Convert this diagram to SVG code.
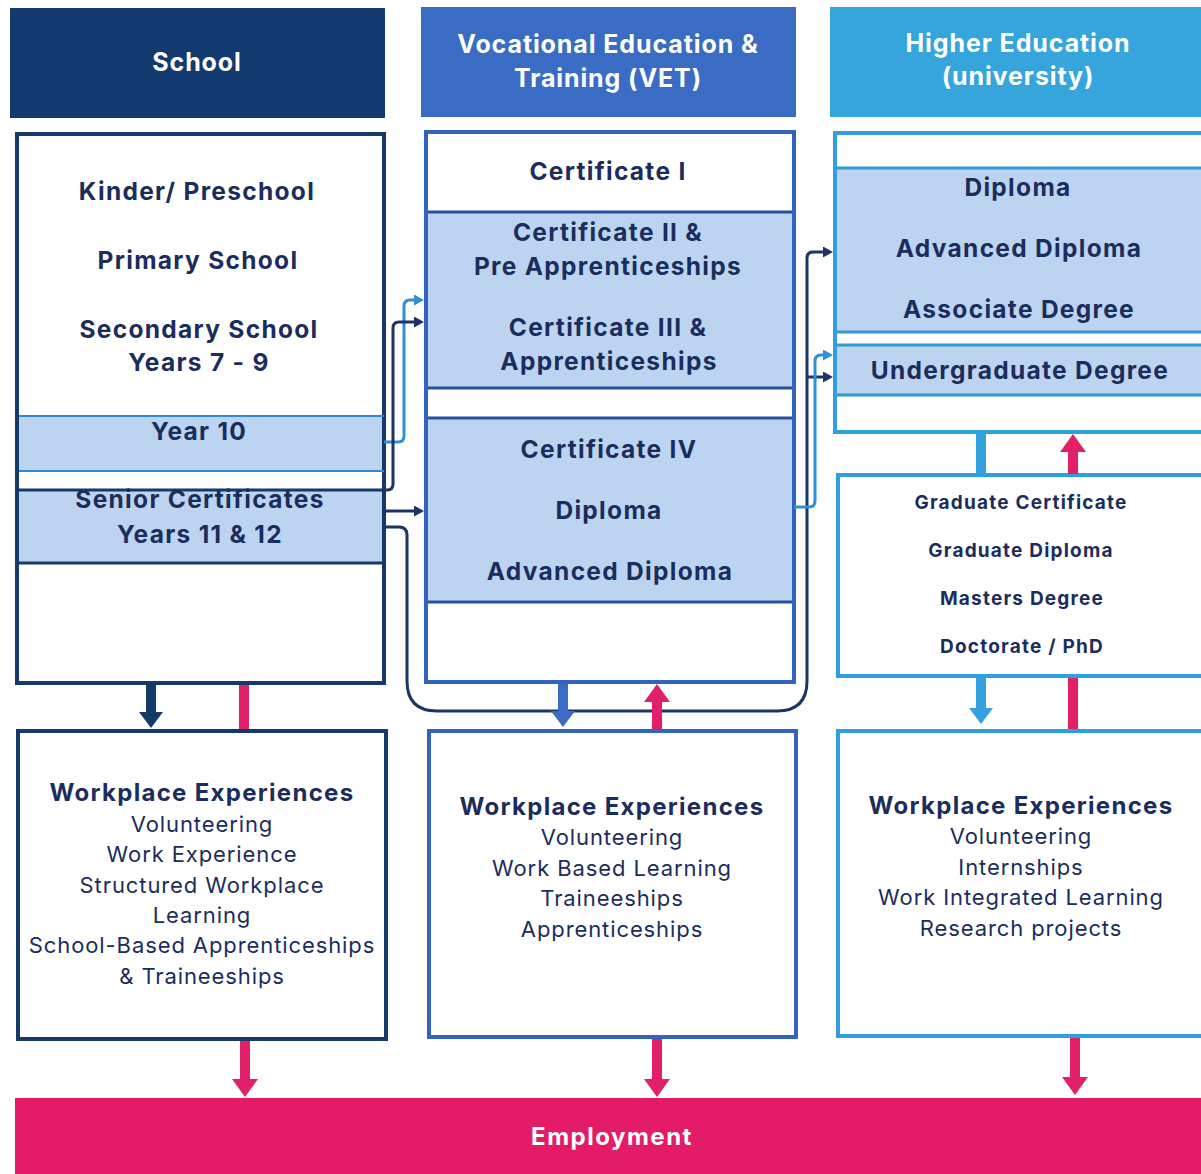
<svg xmlns="http://www.w3.org/2000/svg" width="1201" height="1174" viewBox="0 0 1201 1174">
<style>
text{font-family:Inter,"Noto Sans","Liberation Sans",sans-serif;text-anchor:middle;fill:#1b2d5c}
.hd{font-size:25px;font-weight:700;fill:#fff;letter-spacing:0.9px}
.lb{font-size:24.5px;font-weight:700;letter-spacing:1.3px}
.gr{font-size:19px;font-weight:700;letter-spacing:1.2px}
.wt{font-size:24px;font-weight:700;letter-spacing:1.3px}
.wi{font-size:22px;font-weight:400;letter-spacing:0.9px}
.band{fill:#bdd4f1}
.c{fill:none;stroke-width:3}
.thick{fill:none;stroke-width:10}
</style>
<defs>
<marker id="aN" markerUnits="userSpaceOnUse" markerWidth="10" markerHeight="11" viewBox="0 0 10 11" refX="2" refY="5.5" orient="auto"><path d="M0,0L10,5.5L0,11z" fill="#1b3566"/></marker>
<marker id="aL" markerUnits="userSpaceOnUse" markerWidth="10" markerHeight="11" viewBox="0 0 10 11" refX="2" refY="5.5" orient="auto"><path d="M0,0L10,5.5L0,11z" fill="#2f8fd8"/></marker>
<marker id="bN" markerUnits="userSpaceOnUse" markerWidth="16" markerHeight="24" viewBox="0 0 16 24" refX="2" refY="12" orient="auto"><path d="M0,0L16,12L0,24z" fill="#143a6b"/></marker>
<marker id="bV" markerUnits="userSpaceOnUse" markerWidth="16" markerHeight="24" viewBox="0 0 16 24" refX="2" refY="12" orient="auto"><path d="M0,0L16,12L0,24z" fill="#3a6cc4"/></marker>
<marker id="bH" markerUnits="userSpaceOnUse" markerWidth="16" markerHeight="24" viewBox="0 0 16 24" refX="2" refY="12" orient="auto"><path d="M0,0L16,12L0,24z" fill="#33a2dc"/></marker>
<marker id="bP" markerUnits="userSpaceOnUse" markerWidth="18" markerHeight="26" viewBox="0 0 18 26" refX="2" refY="13" orient="auto"><path d="M0,0L18,13L0,26z" fill="#e2206a"/></marker>
</defs>
<rect width="1201" height="1174" fill="#fff"/>

<g id="hdr-school"><rect x="10" y="8" width="375" height="110" fill="#123a6e"/><text class="hd" x="197" y="71">School</text></g>
<g id="hdr-vet"><rect x="421" y="7" width="375" height="110" fill="#3a6cc4"/><text class="hd" x="608" y="53">Vocational Education &amp;</text><text class="hd" x="608" y="87">Training (VET)</text></g>
<g id="hdr-he"><rect x="830" y="7" width="380" height="110" fill="#35a5dc"/><text class="hd" x="1018" y="52">Higher Education</text><text class="hd" x="1018" y="85">(university)</text></g>

<g id="school">
<rect x="17" y="134" width="367" height="549" fill="#fff" stroke="#15396b" stroke-width="4"/>
<rect class="band" x="19" y="416" width="363" height="55"/>
<line x1="19" y1="416" x2="384" y2="416" stroke="#2f8ad5" stroke-width="2"/>
<line x1="19" y1="471" x2="384" y2="471" stroke="#2f8ad5" stroke-width="2"/>
<rect class="band" x="19" y="490" width="363" height="73"/>
<line x1="19" y1="490" x2="384" y2="490" stroke="#15396b" stroke-width="3"/>
<line x1="19" y1="563" x2="384" y2="563" stroke="#15396b" stroke-width="3"/>
<text class="lb" x="197" y="200">Kinder/ Preschool</text>
<text class="lb" x="198" y="269">Primary School</text>
<text class="lb" x="199" y="338">Secondary School</text>
<text class="lb" x="199" y="371">Years 7 - 9</text>
<text class="lb" x="199" y="440">Year 10</text>
<text class="lb" x="200" y="508">Senior Certificates</text>
<text class="lb" x="200" y="543">Years 11 &amp; 12</text>
</g>

<g id="vet">
<rect x="426" y="132" width="368" height="550" fill="#fff" stroke="#3264bf" stroke-width="4"/>
<rect class="band" x="428" y="212" width="364" height="176"/>
<rect class="band" x="428" y="418" width="364" height="184"/>
<g stroke="#2a4f9e" stroke-width="3">
<line x1="428" y1="212" x2="792" y2="212"/><line x1="428" y1="388" x2="792" y2="388"/>
<line x1="428" y1="418" x2="792" y2="418"/><line x1="428" y1="602" x2="792" y2="602"/>
</g>
<text class="lb" x="608" y="180">Certificate I</text>
<text class="lb" x="608" y="241">Certificate II &amp;</text>
<text class="lb" x="608" y="275">Pre Apprenticeships</text>
<text class="lb" x="608" y="336">Certificate III &amp;</text>
<text class="lb" x="609" y="370">Apprenticeships</text>
<text class="lb" x="609" y="458">Certificate IV</text>
<text class="lb" x="609" y="519">Diploma</text>
<text class="lb" x="610" y="580">Advanced Diploma</text>
</g>

<g id="he">
<rect x="835" y="133" width="380" height="299" fill="#fff" stroke="#2fa0dc" stroke-width="4"/>
<rect class="band" x="837" y="168" width="370" height="164"/>
<rect class="band" x="837" y="345" width="370" height="50"/>
<g stroke="#2e9ad8" stroke-width="3">
<line x1="837" y1="168" x2="1201" y2="168"/><line x1="837" y1="332" x2="1201" y2="332"/>
<line x1="837" y1="345" x2="1201" y2="345"/><line x1="837" y1="395" x2="1201" y2="395"/>
</g>
<text class="lb" x="1018" y="196">Diploma</text>
<text class="lb" x="1019" y="257">Advanced Diploma</text>
<text class="lb" x="1019" y="318">Associate Degree</text>
<text class="lb" x="1020" y="379">Undergraduate Degree</text>
</g>

<g id="he-grad">
<rect x="838" y="475" width="380" height="201" fill="#fff" stroke="#2fa0dc" stroke-width="4"/>
<text class="gr" x="1021" y="509">Graduate Certificate</text>
<text class="gr" x="1021" y="557">Graduate Diploma</text>
<text class="gr" x="1022" y="605">Masters Degree</text>
<text class="gr" x="1022" y="653">Doctorate / PhD</text>
</g>

<g id="wp-school">
<rect x="18" y="731" width="368" height="308" fill="#fff" stroke="#15396b" stroke-width="4"/>
<text class="wt" x="202" y="801">Workplace Experiences</text>
<text class="wi" x="202" y="832">Volunteering</text>
<text class="wi" x="202" y="862">Work Experience</text>
<text class="wi" x="202" y="893">Structured Workplace</text>
<text class="wi" x="202" y="923">Learning</text>
<text class="wi" x="202" y="953">School-Based Apprenticeships</text>
<text class="wi" x="202" y="984">&amp; Traineeships</text>
</g>
<g id="wp-vet">
<rect x="429" y="731" width="367" height="306" fill="#fff" stroke="#3264bf" stroke-width="4"/>
<text class="wt" x="612" y="815">Workplace Experiences</text>
<text class="wi" x="612" y="845">Volunteering</text>
<text class="wi" x="612" y="876">Work Based Learning</text>
<text class="wi" x="612" y="906">Traineeships</text>
<text class="wi" x="612" y="937">Apprenticeships</text>
</g>
<g id="wp-he">
<rect x="838" y="731" width="380" height="305" fill="#fff" stroke="#2fa0dc" stroke-width="4"/>
<text class="wt" x="1021" y="814">Workplace Experiences</text>
<text class="wi" x="1021" y="844">Volunteering</text>
<text class="wi" x="1021" y="875">Internships</text>
<text class="wi" x="1021" y="905">Work Integrated Learning</text>
<text class="wi" x="1021" y="936">Research projects</text>
</g>

<g id="employment"><rect x="15" y="1098" width="1190" height="80" fill="#e41b66"/><text x="612" y="1145" style="font-size:24px;font-weight:700;fill:#fff;letter-spacing:1.5px">Employment</text></g>

<g id="connectors">
<path class="c" stroke="#2f8fd8" d="M384,442H398Q404,442 404,436V306Q404,300 410,300H416" marker-end="url(#aL)"/>
<path class="c" stroke="#1b3566" d="M384,490H387Q393,490 393,484V328Q393,322 399,322H416" marker-end="url(#aN)"/>
<path class="c" stroke="#1b3566" d="M384,511H416" marker-end="url(#aN)"/>
<path class="c" stroke="#1b3566" d="M384,527H399Q407,527 407,535V681Q407,711 437,711H777Q807,711 807,681V258Q807,252 813,252H825" marker-end="url(#aN)"/>
<path class="c" stroke="#1b3566" d="M807,377H825" marker-end="url(#aN)"/>
<path class="c" stroke="#2f8fd8" d="M794,507H809Q815,507 815,501V361Q815,355 821,355H825" marker-end="url(#aL)"/>
<path class="thick" stroke="#143a6b" d="M151,685V714" marker-end="url(#bN)"/>
<path class="thick" stroke="#e2206a" stroke-width="9" d="M244,685V729"/>
<path class="thick" stroke="#3a6cc4" d="M563,684V713" marker-end="url(#bV)"/>
<path class="thick" stroke="#e2206a" stroke-width="9" d="M657,729V700" marker-end="url(#bP)"/>
<path class="thick" stroke="#33a2dc" d="M981,434V474"/>
<path class="thick" stroke="#e2206a" stroke-width="9" d="M1073,474V450" marker-end="url(#bP)"/>
<path class="thick" stroke="#33a2dc" d="M981,678V710" marker-end="url(#bH)"/>
<path class="thick" stroke="#e2206a" stroke-width="9" d="M1073,678V729"/>
<path class="thick" stroke="#e2206a" stroke-width="8" d="M245,1041V1081" marker-end="url(#bP)"/>
<path class="thick" stroke="#e2206a" stroke-width="8" d="M657,1039V1081" marker-end="url(#bP)"/>
<path class="thick" stroke="#e2206a" stroke-width="8" d="M1075,1038V1079" marker-end="url(#bP)"/>
</g>
</svg>
